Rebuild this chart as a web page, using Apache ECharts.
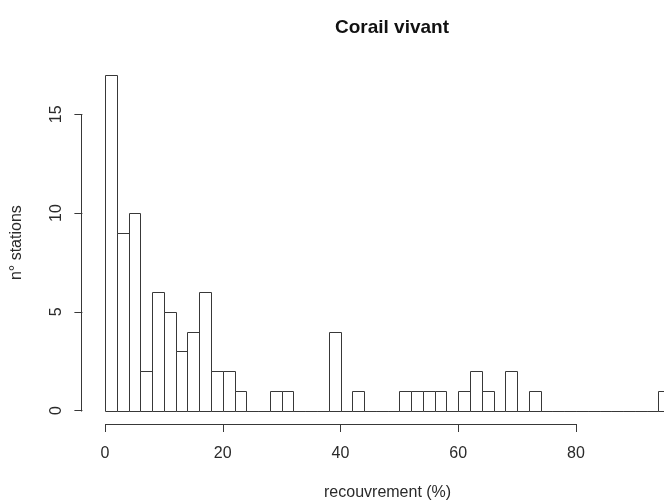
<!DOCTYPE html>
<html>
<head>
<meta charset="utf-8">
<script src="https://cdn.jsdelivr.net/npm/echarts@6/dist/echarts.min.js"></script>
<style>
  html, body { margin: 0; padding: 0; background: #ffffff; }
  #chart { width: 664px; height: 501px; }
</style>
</head>
<body>
<div id="chart"></div>
<script>
// Histogram of live coral cover: bin edges (%) and number of stations per bin
const binStarts = [0, 2, 4, 6, 8, 10, 12, 14, 16, 18, 20, 22, 24, 26, 28, 30,
                   32, 34, 36, 38, 40, 42, 44, 46, 48, 50, 52, 54, 56, 58, 60, 62,
                   64, 66, 68, 70, 72, 74, 76, 78, 80, 82, 84, 86, 88, 90, 92, 94];
const binEnds   = [2, 4, 6, 8, 10, 12, 14, 16, 18, 20, 22, 24, 26, 28, 30, 32,
                   34, 36, 38, 40, 42, 44, 46, 48, 50, 52, 54, 56, 58, 60, 62, 64,
                   66, 68, 70, 72, 74, 76, 78, 80, 82, 84, 86, 88, 90, 92, 94, 96];
const counts    = [17, 9, 10, 2, 6, 5, 3, 4, 6, 2, 2, 1, 0, 0, 1, 1,
                   0, 0, 0, 4, 0, 1, 0, 0, 0, 1, 1, 1, 1, 0, 1, 2,
                   1, 0, 2, 0, 1, 0, 0, 0, 0, 0, 0, 0, 0, 0, 0, 1];

// Axis tick values and texts
const xTicks = [0, 20, 40, 60, 80];
const yTicks = [0, 5, 10, 15];
const titleText = 'Corail vivant';
const xTitle = 'recouvrement (%)';
const yTitle = 'n\u00b0 stations';

// Data range padded by 4% on each side, like a base-graphics plot
const xLo = binStarts[0], xHi = binEnds[binEnds.length - 1];
const yLo = 0, yHi = Math.max.apply(null, counts);
const xPad = (xHi - xLo) * 0.04, yPad = (yHi - yLo) * 0.04;

const FONT = '"Liberation Sans", Arial, Helvetica, sans-serif';
const INK = '#383838';
const TEXT = '#2a2a2a';

const binData = binStarts.map((s, i) => [s, binEnds[i], counts[i]]);

const chart = echarts.init(document.getElementById('chart'), null, { renderer: 'canvas' });

chart.setOption({
  animation: false,
  backgroundColor: '#ffffff',
  title: {
    text: titleText,
    left: 387,
    top: 13,
    textAlign: 'center',
    textStyle: { fontFamily: FONT, fontSize: 19, fontWeight: 'bold', color: '#111' }
  },
  grid: { left: 82.4, top: 61.3, width: 610.4, height: 362.7,
          containLabel: false, outerBoundsMode: 'none' },
  xAxis: {
    type: 'value',
    min: xLo - xPad,
    max: xHi + xPad,
    name: xTitle,
    nameLocation: 'middle',
    nameGap: 61,
    nameTextStyle: { fontFamily: FONT, fontSize: 16, color: TEXT },
    axisLine: { show: false, onZero: false },
    splitLine: { show: false },
    axisTick: { show: true, inside: false, length: 8, customValues: xTicks,
                lineStyle: { color: INK, width: 1 } },
    axisLabel: { show: true, customValues: xTicks, margin: 22,
                 fontFamily: FONT, fontSize: 16, color: TEXT }
  },
  yAxis: {
    type: 'value',
    min: yLo - yPad,
    max: yHi + yPad,
    name: yTitle,
    nameLocation: 'middle',
    nameGap: 58,
    nameRotate: 90,
    nameTextStyle: { fontFamily: FONT, fontSize: 16, color: TEXT },
    axisLine: { show: false, onZero: false },
    splitLine: { show: false },
    axisTick: { show: true, inside: false, length: 8, customValues: yTicks,
                lineStyle: { color: INK, width: 1 } },
    axisLabel: { show: true, customValues: yTicks, rotate: 90, margin: 18,
                 fontFamily: FONT, fontSize: 16, color: TEXT }
  },
  series: [
    {
      // histogram rectangles
      type: 'custom',
      clip: false,
      data: binData,
      renderItem: function (params, api) {
        const topLeft = api.coord([api.value(0), api.value(2)]);
        const botRight = api.coord([api.value(1), 0]);
        return {
          type: 'rect',
          shape: {
            x: Math.round(topLeft[0]) + 0.5,
            y: Math.round(topLeft[1]) + 0.5,
            width: Math.round(botRight[0]) - Math.round(topLeft[0]),
            height: Math.round(botRight[1]) - Math.round(topLeft[1])
          },
          style: { fill: '#ffffff', stroke: INK, lineWidth: 1 }
        };
      }
    },
    {
      // axis lines spanning first to last tick only
      type: 'custom',
      clip: false,
      data: [[0]],
      renderItem: function (params, api) {
        const cs = params.coordSys;
        const xa = api.coord([xTicks[0], 0])[0];
        const xb = api.coord([xTicks[xTicks.length - 1], 0])[0];
        const ya = api.coord([0, yTicks[0]])[1];
        const yb = api.coord([0, yTicks[yTicks.length - 1]])[1];
        const yBase = Math.round(cs.y + cs.height) + 0.5;
        const xBase = Math.round(cs.x) - 0.5;
        return {
          type: 'group',
          children: [
            { type: 'line', shape: { x1: Math.round(xa) + 0.5, y1: yBase, x2: Math.round(xb) + 0.5, y2: yBase },
              style: { stroke: INK, lineWidth: 1 } },
            { type: 'line', shape: { x1: xBase, y1: Math.round(ya) + 0.5, x2: xBase, y2: Math.round(yb) + 0.5 },
              style: { stroke: INK, lineWidth: 1 } }
          ]
        };
      }
    }
  ]
});
</script>
</body>
</html>
